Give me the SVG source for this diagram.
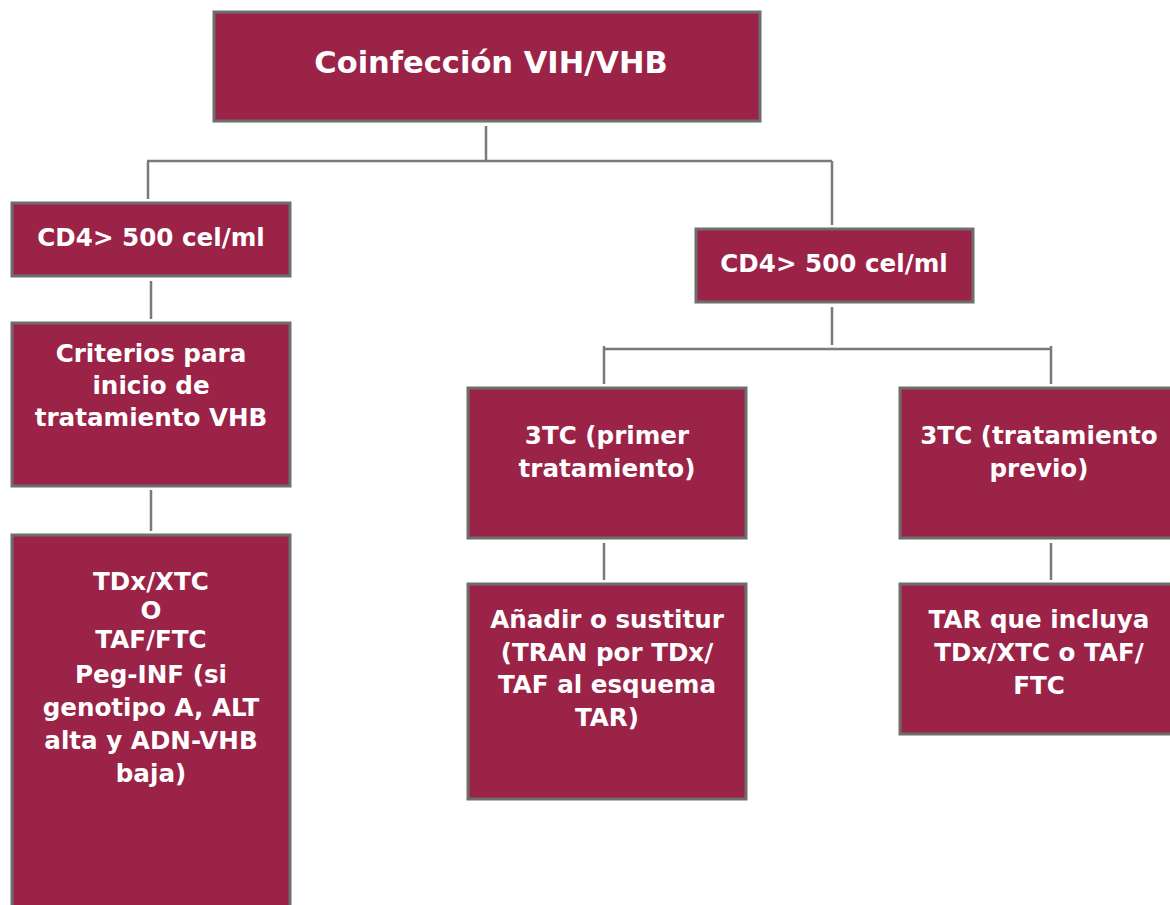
<svg xmlns="http://www.w3.org/2000/svg" width="1170" height="905" viewBox="0 0 1170 905">
<style>
.box{fill:#9b2347;stroke:#6e6e6e;stroke-width:3}
.t{font-family:"DejaVu Sans",sans-serif;font-weight:bold;fill:#ffffff;text-anchor:middle;font-size:24.6px}
.c{stroke:#7a7a7a;stroke-width:2.5;fill:none}
</style>
<rect width="1170" height="905" fill="#ffffff"/>
<g id="connectors">
<path class="c" d="M486 126V160M147 161H832M148 161V199M832 161V225"/>
<path class="c" d="M151 281V319M151 490V531"/>
<path class="c" d="M832 307V345M604 349H1052M604 346V384M1051 346V384"/>
<path class="c" d="M604 543V580M1051 543V580"/>
</g>
<g id="n-root"><rect class="box" x="214" y="12" width="546" height="109"/><text class="t" x="491" y="73" style="font-size:30.5px">Coinfección VIH/VHB</text></g>
<g id="n-cd4-left"><rect class="box" x="12" y="203" width="278" height="73"/><text class="t" x="151" y="246">CD4&gt; 500 cel/ml</text></g>
<g id="n-criterios"><rect class="box" x="12" y="323" width="278" height="163"/><text class="t" x="151" y="362">Criterios para</text><text class="t" x="151" y="394">inicio de</text><text class="t" x="151" y="426">tratamiento VHB</text></g>
<g id="n-tdx"><rect class="box" x="12" y="535" width="278" height="380"/><text class="t" x="151" y="590">TDx/XTC</text><text class="t" x="151" y="619">O</text><text class="t" x="151" y="648">TAF/FTC</text><text class="t" x="151" y="683">Peg-INF (si</text><text class="t" x="151" y="716">genotipo A, ALT</text><text class="t" x="151" y="749">alta y ADN-VHB</text><text class="t" x="151" y="782">baja)</text></g>
<g id="n-cd4-right"><rect class="box" x="696" y="229" width="277" height="73"/><text class="t" x="834" y="272">CD4&gt; 500 cel/ml</text></g>
<g id="n-3tc-primer"><rect class="box" x="468" y="388" width="278" height="150"/><text class="t" x="607" y="444">3TC (primer</text><text class="t" x="607" y="477">tratamiento)</text></g>
<g id="n-3tc-previo"><rect class="box" x="900" y="388" width="280" height="150"/><text class="t" x="1039" y="444">3TC (tratamiento</text><text class="t" x="1039" y="477">previo)</text></g>
<g id="n-anadir"><rect class="box" x="468" y="584" width="278" height="215"/><text class="t" x="607" y="628">Añadir o sustitur</text><text class="t" x="607" y="661">(TRAN por TDx/</text><text class="t" x="607" y="693">TAF al esquema</text><text class="t" x="607" y="726">TAR)</text></g>
<g id="n-tar"><rect class="box" x="900" y="584" width="280" height="150"/><text class="t" x="1039" y="628">TAR que incluya</text><text class="t" x="1039" y="661">TDx/XTC o TAF/</text><text class="t" x="1039" y="694">FTC</text></g>
</svg>
